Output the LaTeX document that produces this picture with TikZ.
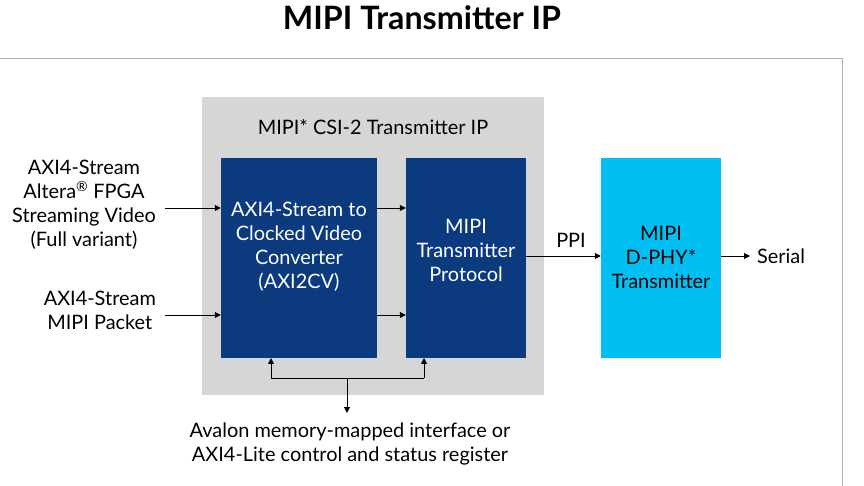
\documentclass[tikz,border=0pt]{standalone}
\usepackage{fontspec}
\setmainfont{Lato}
\usetikzlibrary{arrows.meta,positioning}
\definecolor{darkblk}{HTML}{0B3A7E}
\definecolor{skyblk}{HTML}{00C0F3}
\definecolor{graybg}{HTML}{D6D6D6}
\tikzset{
  blk/.style={fill=#1,draw=none,minimum height=200*0.03cm,align=center,
    inner sep=0pt,font=\fontsize{17}{20.5}\selectfont},
  lbl/.style={align=center,font=\fontsize{17}{20.5}\selectfont},
  arr/.style={-{Triangle[length=5pt,width=5pt]},line width=0.8pt}
}
\begin{document}
\begin{tikzpicture}[x=0.03cm,y=-0.03cm]
  \useasboundingbox (0,0) rectangle (864,486);
  % title and frame
  \node (title) at (422,18) {\fontsize{27.5}{32}\selectfont\bfseries MIPI Transmitter IP};
  \draw[gray!60,line width=0.8pt] (-5,58) -- (842,58) -- (842,490);
  % CSI-2 container
  \fill[graybg] (202,97) rectangle (544,395);
  \node[lbl] (csi) at (373,127) {MIPI* CSI-2 Transmitter IP};
  % blocks
  \node[blk=darkblk,text=white,minimum width=156*0.03cm] (conv) at (299,258) {};
  \node[lbl,text=white] at (299,247) {AXI4-Stream to\\Clocked Video\\Converter\\(AXI2CV)};
  \node[blk=darkblk,text=white,minimum width=120*0.03cm] (proto) at (466,258) {};
  \node[lbl,text=white] at (466,250) {MIPI\\Transmitter\\Protocol};
  \node[blk=skyblk,minimum width=120*0.03cm] (dphy) at (661,258) {};
  \node[lbl] at (661,257) {MIPI\\D-PHY*\\Transmitter};
  % inputs
  \node[lbl,anchor=east] (in1) at (160,205) {AXI4-Stream\\Altera\textsuperscript{\textregistered} FPGA\\Streaming Video\\(Full variant)};
  \node[lbl,anchor=east] (in2) at (160,310) {AXI4-Stream\\MIPI Packet};
  \coordinate (a1) at (165,208);
  \coordinate (a2) at (165,315);
  \draw[arr] (a1) -- (a1 -| conv.west);
  \draw[arr] (a2) -- (a2 -| conv.west);
  \draw[arr] (a1 -| conv.east) -- (a1 -| proto.west);
  \draw[arr] (a2 -| conv.east) -- (a2 -| proto.west);
  % outputs
  \draw[arr] (proto.east |- 0,256) -- (dphy.west |- 0,256);
  \node[lbl] (ppi) at (571,240) {PPI};
  \coordinate (s) at (750,256);
  \draw[arr] (dphy.east |- s) -- (s);
  \node[lbl,anchor=west] (serial) at (753,256) {Serial};
  % control bus
  \coordinate (bus) at (347,378);
  \draw[arr] (bus) -- (347,413);
  \draw[arr] (271,378) -- (271,358);
  \draw[arr] (424,378) -- (424,358);
  \draw[line width=0.8pt] (271,378) -- (424,378);
  \node[lbl] (ctrl) at (350,444) {Avalon memory-mapped interface or\\AXI4-Lite control and status register};
\end{tikzpicture}
\end{document}
